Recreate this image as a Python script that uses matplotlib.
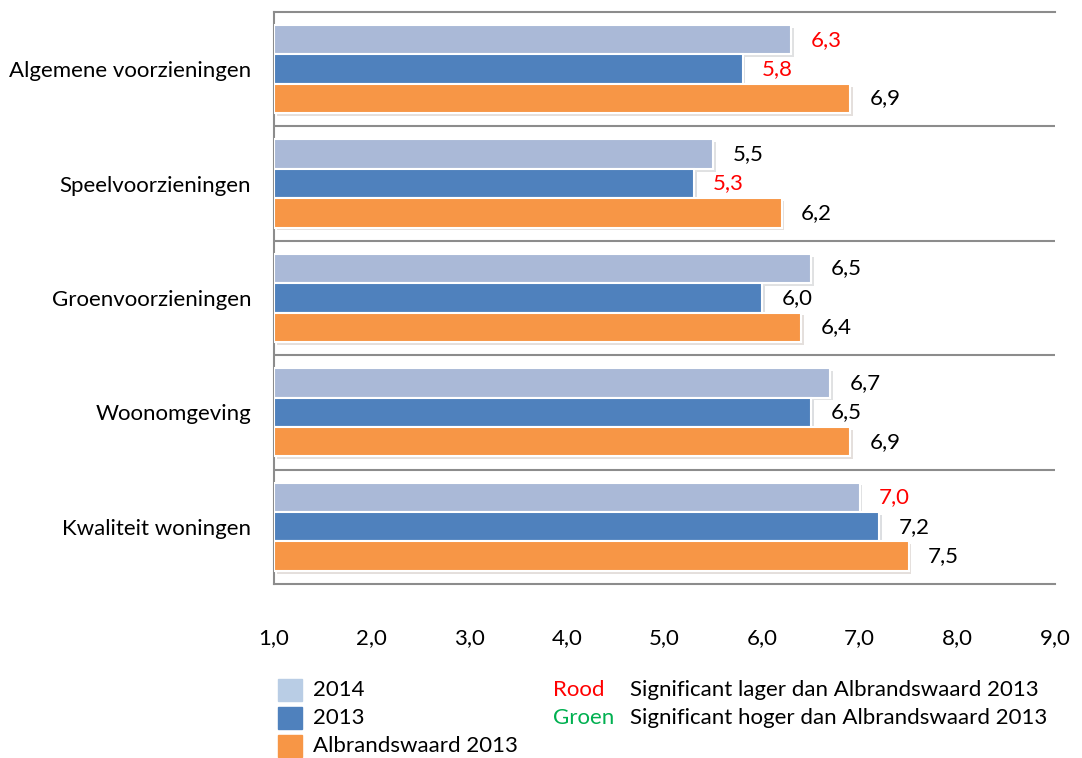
import matplotlib
matplotlib.use("Agg")
import matplotlib.pyplot as plt
import matplotlib.patheffects as pe
from matplotlib.patches import Rectangle
import numpy as np

plt.rcParams['font.family'] = ['Lato', 'DejaVu Sans']

categories = ["Algemene voorzieningen", "Speelvoorzieningen", "Groenvoorzieningen",
              "Woonomgeving", "Kwaliteit woningen"]
series_names = ["2014", "2013", "Albrandswaard 2013"]
vals_2014 = [6.3, 5.5, 6.5, 6.7, 7.0]
vals_2013 = [5.8, 5.3, 6.0, 6.5, 7.2]
vals_alb = [6.9, 6.2, 6.4, 6.9, 7.5]
# label colour: red = significantly lower than Albrandswaard 2013
sig_2014 = ["red", "black", "black", "black", "red"]
sig_2013 = ["red", "red", "black", "black", "black"]
sig_alb = ["black"] * 5
xticks = [1, 2, 3, 4, 5, 6, 7, 8, 9]

bar_colors = ["#AAB9D7", "#4F81BD", "#F79646"]
legend_colors = ["#B9CDE5", "#4F81BD", "#F79646"]
grid_col = "#8C8C8C"
fs = 16

fig = plt.figure(figsize=(10.82, 7.58), dpi=100)
ax = fig.add_axes([0.2532, 0.2296, 0.7218, 0.7546])

y = np.arange(len(categories))
h = 0.257
all_vals = [vals_2014, vals_2013, vals_alb]
all_sig = [sig_2014, sig_2013, sig_alb]
offsets = [-h, 0, h]
for vals, sig, off, col in zip(all_vals, all_sig, offsets, bar_colors):
    bars = ax.barh(y + off, np.array(vals) - 1, left=1, height=h, color=col,
                   edgecolor="white", linewidth=1.5, zorder=3)
    for b in bars:
        b.set_path_effects([pe.SimplePatchShadow(offset=(2, -2), alpha=0.15), pe.Normal()])
    for yi, v, c in zip(y + off, vals, sig):
        ax.text(v + 0.2, yi, f"{v:.1f}".replace(".", ","), va="center", ha="left",
                fontsize=fs, color="#FF0000" if c == "red" else "black")

ax.set_xlim(1, 9)
ax.set_ylim(len(categories) - 0.5, -0.5)
ax.set_xticks(xticks)
ax.set_xticklabels([f"{t:.1f}".replace(".", ",") for t in xticks], fontsize=fs)
ax.set_yticks(y)
ax.set_yticklabels(categories, fontsize=fs)
ax.tick_params(axis="x", length=0, pad=32)
ax.tick_params(axis="y", length=0, pad=16.5)
for yb in np.arange(0.5, len(categories) - 0.5, 1):
    ax.axhline(yb, color=grid_col, lw=1.5, zorder=1)
for s in ["top", "bottom", "left"]:
    ax.spines[s].set_color(grid_col)
    ax.spines[s].set_linewidth(1.5)
ax.spines["right"].set_visible(False)

# legend
rows = [0.0893, 0.0528, 0.0158]
for name, col, ry in zip(series_names, legend_colors, rows):
    fig.patches.append(Rectangle((0.257, ry - 0.0145), 0.022, 0.029, color=col,
                                 transform=fig.transFigure, figure=fig))
    fig.text(0.289, ry, name, fontsize=fs, va="center", ha="left")
fig.text(0.511, rows[0], "Rood", fontsize=fs, va="center", color="#FF0000")
fig.text(0.511, rows[1], "Groen", fontsize=fs, va="center", color="#00B050")
fig.text(0.582, rows[0], "Significant lager dan Albrandswaard 2013", fontsize=fs, va="center")
fig.text(0.582, rows[1], "Significant hoger dan Albrandswaard 2013", fontsize=fs, va="center")

fig.savefig("out.png", dpi=100)
